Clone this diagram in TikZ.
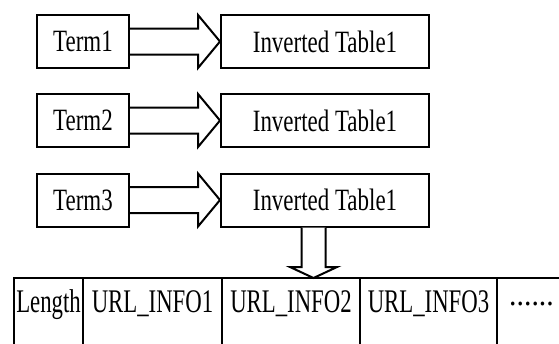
\documentclass[tikz,border=0pt]{standalone}
\usepackage{fontspec}
\setmainfont{Liberation Serif}
\usepackage{graphicx}
\usetikzlibrary{calc}
\newcommand{\boxtxt}[1]{\scalebox{0.74}[1]{\fontsize{31}{31}\selectfont #1}}
\newcommand{\celltxt}[1]{\scalebox{0.69}[1]{\fontsize{33}{33}\selectfont #1}}
\newcommand{\dottxt}[1]{\scalebox{0.9}[1]{\fontsize{33}{33}\selectfont #1}}
\tikzset{
  termbox/.style={draw, line width=2pt, rectangle, inner sep=0pt, minimum width=92pt, minimum height=53pt},
  invbox/.style={draw, line width=2pt, rectangle, inner sep=0pt, minimum width=208pt, minimum height=53pt},
  blk/.style={draw, line width=2pt, line join=miter},
  cell/.style={inner sep=0pt, anchor=base},
  grid/.style={line width=2pt}
}
\begin{document}
\begin{tikzpicture}[x=1pt,y=-1pt]
\useasboundingbox (0,0) rectangle (559,343);
\clip (0,0) rectangle (559,343);
\fill[white] (0,0) rectangle (559,343);
% term boxes
\node[termbox] (t1) at (83,41.5) {\boxtxt{Term1}};
\node[termbox] (t2) at (83,120.5) {\boxtxt{Term2}};
\node[termbox] (t3) at (83,200) {\boxtxt{Term3}};
\node[invbox] (i1) at (325,41.5) {\boxtxt{Inverted Table1}};
\node[invbox] (i2) at (325,120.5) {\boxtxt{Inverted Table1}};
\node[invbox] (i3) at (325,200) {\boxtxt{Inverted Table1}};
% block arrows
\foreach \n in {1,2,3}{
  \draw[blk] ($(t\n.east)+(-1,-13)$) -- ($(i\n.west)+(-22,-13)$) -- ($(i\n.west)+(-22,-26.5)$)
    -- (i\n.west) -- ($(i\n.west)+(-22,26.5)$) -- ($(i\n.west)+(-22,13)$) -- ($(t\n.east)+(-1,13)$);
}
% table
\node[cell] (c0) at (48.5,312.5) {\celltxt{Length}};
\node[cell] (c1) at (152.5,312.5) {\celltxt{URL\_INFO1}};
\node[cell] (c2) at (291,312.5) {\celltxt{URL\_INFO2}};
\node[cell] (c3) at (428.5,312.5) {\celltxt{URL\_INFO3}};
\node[cell] (c4) at (531.5,305) {\dottxt{......}};
\draw[grid] (14,278) -- (565,278);
\foreach \x in {14,83,222,360,497}{
  \draw[grid] (\x,277) -- (\x,350);
}
% down arrow
\coordinate (tip) at (313.5,278);
\coordinate (sl) at ($(tip)+(-12,0)$);
\coordinate (sr) at ($(tip)+(12,0)$);
\draw[blk,fill=white] (sl |- i3.south) -- ($(tip)+(-12,-11)$) -- ($(tip)+(-23.5,-11)$)
  -- (tip) -- ($(tip)+(23.5,-11)$) -- ($(tip)+(12,-11)$) -- (sr |- i3.south);
\end{tikzpicture}
\end{document}
